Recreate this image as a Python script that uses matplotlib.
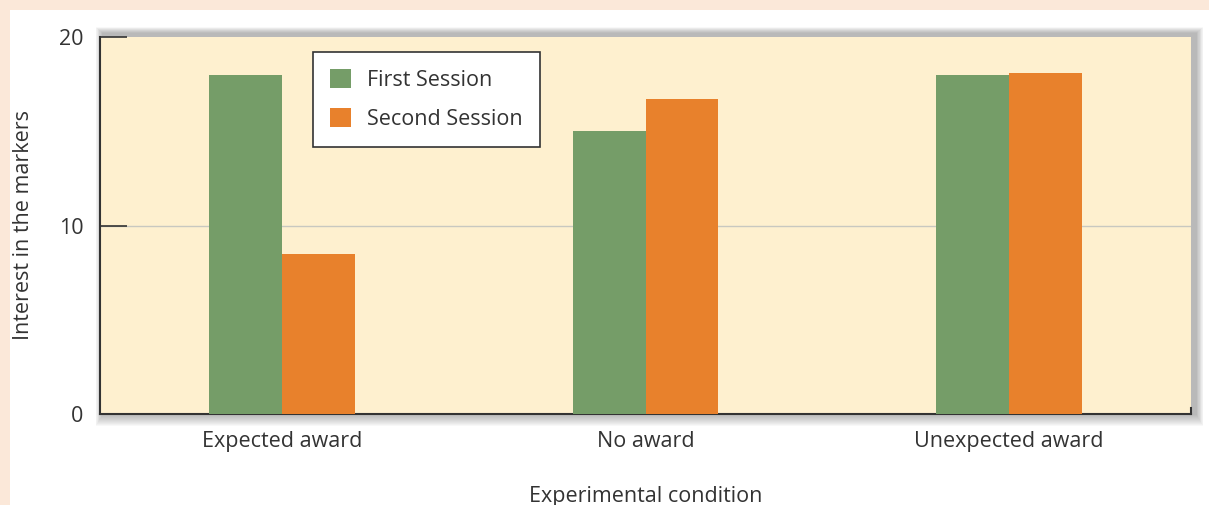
import numpy as np
import matplotlib.pyplot as plt
from matplotlib.patches import Rectangle

conditions = ['Expected award', 'No award', 'Unexpected award']
first_session = [18.0, 15.0, 18.0]
second_session = [8.5, 16.7, 18.1]
yticks = [0, 10, 20]

green = '#759d68'
orange = '#e8812c'
plot_bg = '#fef0cf'
peach = '#fbe8d9'

plt.rcParams['font.family'] = ['Open Sans', 'DejaVu Sans']

W, H = 1209, 505
fig = plt.figure(figsize=(W / 100, H / 100), dpi=100)
fig.patch.set_facecolor('white')

# peach frame: top band and left strip
fig.patches.append(Rectangle((0, 1 - 10 / H), 1, 10 / H, transform=fig.transFigure,
                             facecolor=peach, edgecolor='none', zorder=-2))
fig.patches.append(Rectangle((0, 0), 10 / W, 1 - 10 / H, transform=fig.transFigure,
                             facecolor=peach, edgecolor='none', zorder=-2))

left, right, top, bottom = 100, 1191, 37, 414
ax = fig.add_axes([left / W, 1 - bottom / H, (right - left) / W, (bottom - top) / H])

# soft drop shadow behind the plot area
for i in range(12, 0, -1):
    fig.patches.append(Rectangle(((left - i * 0.6 + 3) / W, 1 - (bottom + i) / H),
                                 (right - left + i * 1.2 + 2) / W, (bottom - top + i * 1.5 + 4) / H,
                                 transform=fig.transFigure, facecolor='#555555',
                                 edgecolor='none', alpha=0.04, zorder=-1))

ax.set_facecolor(plot_bg)
x = np.arange(len(conditions))
w = 0.2
ax.bar(x - w / 2, first_session, w, color=green, label='First Session', zorder=3)
ax.bar(x + w / 2, second_session, w, color=orange, label='Second Session', zorder=3)

ax.set_xlim(-0.5, 2.5)
ax.set_ylim(0, 20)
ax.set_yticks(yticks)
ax.set_xticks(x)
ax.set_xticklabels(conditions)
ax.axhline(10, color='#c8c8c0', lw=1, zorder=1)

ax.tick_params(axis='y', direction='in', length=19.5, width=1.2, color='#333333',
               labelsize=15.5, labelcolor='#333333', pad=12)
ax.tick_params(axis='x', length=0, labelsize=15.5, labelcolor='#333333', pad=12)

for side in ['top', 'right']:
    ax.spines[side].set_visible(False)
for side in ['left', 'bottom']:
    ax.spines[side].set_color('#333333')
    ax.spines[side].set_linewidth(1.5)
ax.plot([1, 1], [0, 0.015], transform=ax.transAxes, color='#333333', lw=1.5, clip_on=False)

ax.set_ylabel('Interest in the markers', fontsize=15.5, color='#333333', labelpad=18)
ax.set_xlabel('Experimental condition', fontsize=15.5, color='#333333', labelpad=25)

leg = ax.legend(loc='upper left', bbox_to_anchor=(213 / (right - left), 1 - 15 / (bottom - top)),
                fontsize=15.5, frameon=True, fancybox=False, handlelength=0.95, handleheight=0.95,
                borderpad=0.8, labelspacing=0.8, handletextpad=0.75, borderaxespad=0)
leg.get_frame().set_edgecolor('#333333')
leg.get_frame().set_linewidth(1.2)
leg.get_frame().set_facecolor('white')
leg.get_frame().set_alpha(1)
for t in leg.get_texts():
    t.set_color('#333333')

fig.savefig('out.png', dpi=100)
